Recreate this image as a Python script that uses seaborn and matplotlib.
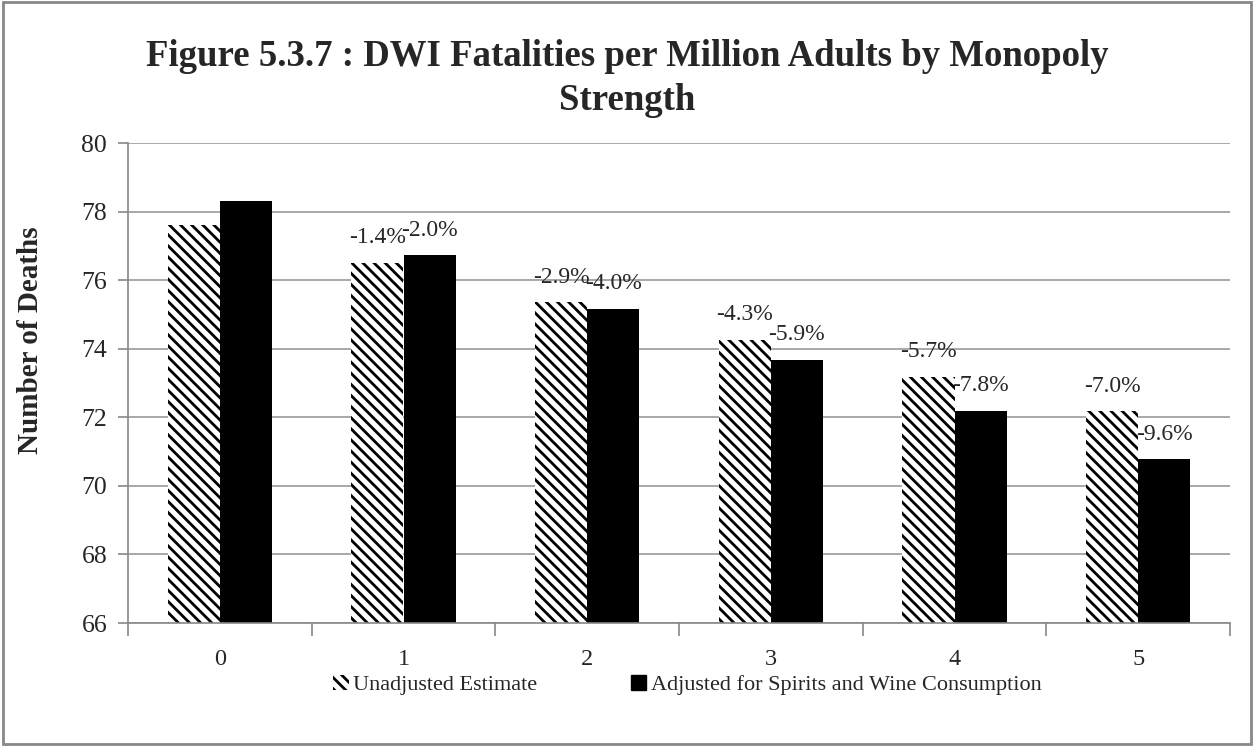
import pandas as pd
import matplotlib
matplotlib.use("Agg")
import matplotlib.pyplot as plt
import matplotlib.patches as mpatches
import seaborn as sns

# data
strength = ["0", "1", "2", "3", "4", "5"]
unadjusted = [77.6, 76.51, 75.35, 74.26, 73.18, 72.17]
adjusted = [78.3, 76.73, 75.17, 73.68, 72.19, 70.78]
unadj_labels = ["", "-1.4%", "-2.9%", "-4.3%", "-5.7%", "-7.0%"]
adj_labels = ["", "-2.0%", "-4.0%", "-5.9%", "-7.8%", "-9.6%"]
series_names = ["Unadjusted Estimate", "Adjusted for Spirits and Wine Consumption"]

df = pd.DataFrame({
    "Strength": strength * 2,
    "Deaths": unadjusted + adjusted,
    "Series": [series_names[0]] * 6 + [series_names[1]] * 6,
})

HATCH = "\\\\\\"  # three backslashes -> ~11px stripe spacing at 100 dpi

sns.set_style("white")
plt.rcParams["font.family"] = ["Liberation Serif", "DejaVu Serif"]
plt.rcParams["hatch.linewidth"] = 2.0
plt.rcParams["hatch.color"] = "black"

fig = plt.figure(figsize=(12.54, 7.46), dpi=100)
ax = fig.add_axes([128 / 1254, 1 - 623 / 746, 1102 / 1254, 480 / 746])

sns.barplot(data=df, x="Strength", y="Deaths", hue="Series",
            palette=["white", "black"], width=0.567, gap=0,
            linewidth=0, saturation=1, legend=False, ax=ax)

# hatch the unadjusted series
for bar in ax.containers[0]:
    bar.set_hatch(HATCH)
    bar.set_edgecolor("black")
    bar.set_linewidth(0)

# percent labels
for cont, labels in zip(ax.containers, [unadj_labels, adj_labels]):
    for bar, lab in zip(cont, labels):
        if lab:
            ax.annotate(lab, (bar.get_x() + bar.get_width() / 2, bar.get_height()),
                        xytext=(0, 14), textcoords="offset points",
                        ha="center", va="baseline", fontsize=17)

ax.set_ylim(66, 80)
ax.set_yticks(range(66, 81, 2))
ax.set_xlim(-0.5, 5.5)
ax.yaxis.grid(True, color="#999999", linewidth=1.2)
ax.set_axisbelow(True)
for side in ["top", "right"]:
    ax.spines[side].set_visible(False)
for side in ["left", "bottom"]:
    ax.spines[side].set_color("#888888")
    ax.spines[side].set_linewidth(1.2)

ax.tick_params(axis="y", left=True, length=7, color="#888888", width=1.2,
               labelsize=18.5, pad=8)
ax.tick_params(axis="x", bottom=False, labelsize=17.5, pad=15)
# excel style ticks between categories
ax.set_xticks([i - 0.5 for i in range(7)], minor=True)
ax.tick_params(axis="x", which="minor", bottom=True, length=9,
               color="#888888", width=1.2)

ax.set_xlabel("")
ax.set_ylabel("Number of Deaths", fontsize=21, fontweight="bold")
ax.yaxis.set_label_coords(-84 / 1102, (623 - 340) / 480)

fig.suptitle("Figure 5.3.7 : DWI Fatalities per Million Adults by Monopoly\nStrength",
             fontsize=26.5, fontweight="bold", y=1 - 39 / 746, va="top",
             linespacing=1.32)

handles = [mpatches.Patch(facecolor="white", edgecolor="black", hatch=HATCH, linewidth=0),
           mpatches.Patch(facecolor="black", edgecolor="black")]
fig.legend(handles, series_names, loc="center", bbox_to_anchor=(0.548, 1 - 685 / 746),
           ncol=2, frameon=False, fontsize=16, handlelength=0.7, handleheight=0.7,
           handletextpad=0.2, columnspacing=4.2)

# outer chart border
fig.patches.append(mpatches.Rectangle((0.002, 0.003), 0.996, 0.994, transform=fig.transFigure,
                                      fill=False, edgecolor="#888888", linewidth=2))

fig.savefig("out.png", dpi=100)
